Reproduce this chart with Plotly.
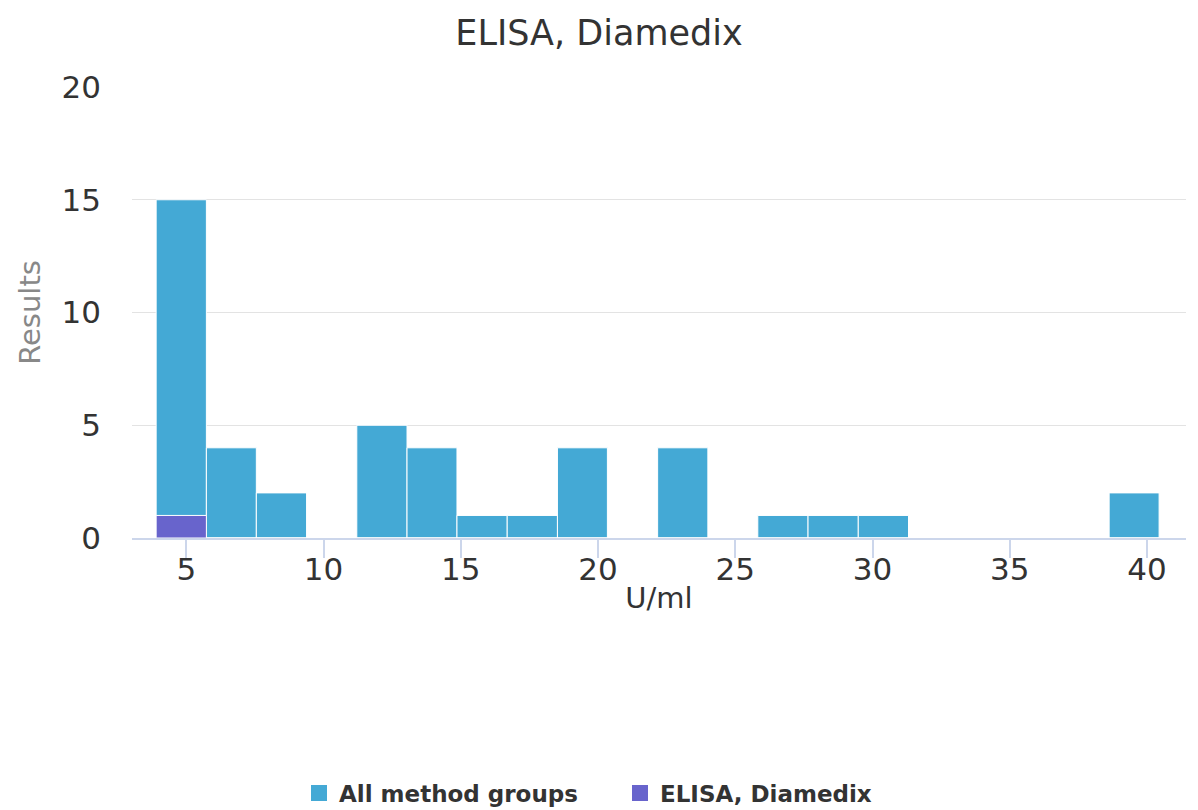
import plotly.graph_objects as go

# Histogram bin edges (U/ml) and counts
bin_edges = [3.9, 5.73, 7.55, 9.38, 11.21, 13.04, 14.86, 16.69, 18.52, 20.34,
             22.17, 24.0, 25.82, 27.65, 29.48, 31.31, 33.13, 34.96, 36.79,
             38.62, 40.44]
all_groups = [15, 4, 2, 0, 5, 4, 1, 1, 4, 0, 4, 0, 1, 1, 1, 0, 0, 0, 0, 2]
elisa_diamedix = [1, 0, 0, 0, 0, 0, 0, 0, 0, 0, 0, 0, 0, 0, 0, 0, 0, 0, 0, 0]
series_names = ["All method groups", "ELISA, Diamedix"]
series_colors = ["#44a9d5", "#6864cc"]
x_ticks = [5, 10, 15, 20, 25, 30, 35, 40]
y_ticks = [0, 5, 10, 15, 20]

centers = [(a + b) / 2 for a, b in zip(bin_edges[:-1], bin_edges[1:])]
widths = [b - a for a, b in zip(bin_edges[:-1], bin_edges[1:])]

FONT = "DejaVu Sans"

fig = go.Figure()
for name, vals, col in zip(series_names, [all_groups, elisa_diamedix], series_colors):
    fig.add_trace(go.Bar(
        x=centers, y=vals, width=widths, name=name, showlegend=False,
        legendgroup=name,
        marker=dict(color=col, line=dict(color="#ffffff", width=1)),
    ))
# legend entries with larger square swatches
for name, col in zip(series_names, series_colors):
    fig.add_trace(go.Scatter(
        x=[None], y=[None], mode="markers", name=name, legendgroup=name,
        marker=dict(symbol="square", size=24, color=col),
    ))

fig.update_layout(
    width=1198, height=810,
    barmode="overlay",
    paper_bgcolor="white", plot_bgcolor="white",
    margin=dict(l=132, r=12, t=87, b=272),
    title=dict(text="ELISA, Diamedix", x=0.5, xref="container", xanchor="center",
               y=1 - 33 / 810, yref="container", yanchor="middle",
               font=dict(family=FONT, size=35, color="#333333")),
    font=dict(family=FONT, color="#333333"),
    showlegend=True,
    legend=dict(orientation="h", x=299 / 1198, xref="container", xanchor="left",
                y=1 - 793 / 810, yref="container", yanchor="middle",
                font=dict(family=FONT, size=23, color="#333333", weight="bold"),
                traceorder="normal", itemclick=False, itemsizing="trace",
                entrywidth=276, entrywidthmode="pixels"),
    xaxis=dict(
        range=[3.02, 41.42], tickmode="array", tickvals=x_ticks,
        ticks="outside", ticklen=18, tickwidth=1.5, tickcolor="#ccd6eb",
        showline=True, linecolor="#ccd6eb", linewidth=1.5,
        showgrid=False, zeroline=False,
        ticklabelstandoff=-15,
        tickfont=dict(family=FONT, size=31, color="#333333"),
        title=dict(text="U/ml", standoff=2,
                   font=dict(family=FONT, size=29, color="#333333")),
    ),
    yaxis=dict(
        range=[0, 20], tickmode="array", tickvals=y_ticks,
        ticks="", showline=False, zeroline=False,
        showgrid=True, gridcolor="#e3e3e3", gridwidth=1.2,
        ticklabelstandoff=30,
        tickfont=dict(family=FONT, size=31, color="#333333"),
        title=dict(text="Results", standoff=12,
                   font=dict(family=FONT, size=29, color="#888888")),
    ),
)

fig.write_html("out.html", config={"displayModeBar": False},
               post_script="document.body.style.margin='0';")
